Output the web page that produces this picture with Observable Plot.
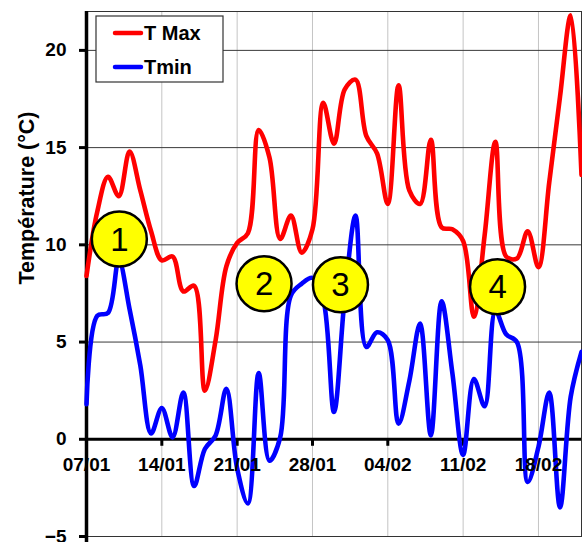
<!DOCTYPE html>
<html>
<head>
<meta charset="utf-8">
<script src="https://cdn.jsdelivr.net/npm/d3@7"></script>
<script src="https://cdn.jsdelivr.net/npm/@observablehq/plot@0.6"></script>
<style>
  html, body { margin: 0; padding: 0; background: white; }
  #chart { position: relative; width: 582px; height: 542px; overflow: hidden; }
</style>
</head>
<body>
<div id="chart"></div>
<script>
// Day index 0 = 07/01 ... 46 = 22/02
const dayIndex = d3.range(47);

const tMax = [8.4, 11.7, 13.5, 12.5, 14.8, 12.8, 10.7, 9.2, 9.4, 7.6, 7.9, 2.5, 5.1, 8.9, 10.1, 10.6,
  15.9, 14.5, 10.3, 11.5, 9.6, 10.8, 17.3, 15.2, 18.0, 18.5, 15.6, 14.7, 12.1, 18.2, 12.8, 12.1,
  15.4, 10.9, 10.8, 10.2, 6.3, 10.5, 15.3, 9.4, 9.3, 10.7, 8.85, 13.2, 17.6, 21.8, 13.6];

const tMin = [1.8, 6.35, 6.5, 9.2, 6.7, 3.8, 0.3, 1.6, 0.1, 2.4, -2.4, -0.5, 0.2, 2.6, -1.5, -3.3,
  3.4, -1.1, 0.1, 7.4, 8.0, 8.3, 7.2, 1.4, 7.3, 11.5, 4.75, 5.5, 5.1, 0.8, 3.0, 5.95,
  0.2, 7.1, 3.4, -0.8, 3.1, 1.7, 6.6, 5.4, 5.0, -2.2, -0.4, 2.4, -3.5, 2.2, 4.5];

const xTickDays = [0, 7, 14, 21, 28, 35, 42];
const xTickLabels = ["07/01", "14/01", "21/01", "28/01", "04/02", "11/02", "18/02"];
const yTicks = [-5, 0, 5, 10, 15, 20];
const yGridValues = [5, 10, 15, 20];

// Numbered annotations (position in day index / °C)
const noteLabels = ["1", "2", "3", "4"];
const noteDays = [3.05, 16.5, 23.6, 38.2];
const noteValues = [10.3, 8.0, 7.95, 7.85];

const seriesNames = ["T Max", "Tmin"];
const seriesColors = ["#ff0000", "#0000ff"];

const maxData = dayIndex.map((d, i) => ({day: d, value: tMax[i]}));
const minData = dayIndex.map((d, i) => ({day: d, value: tMin[i]}));
const notes = noteLabels.map((t, i) => ({label: t, day: noteDays[i], value: noteValues[i]}));
const xTicks = xTickDays.map((d, i) => ({day: d, label: xTickLabels[i]}));

const font = "'Liberation Sans', Arial, Helvetica, sans-serif";

const svg = Plot.plot({
  width: 582,
  height: 542,
  marginLeft: 86,
  marginRight: 1,
  marginTop: 11,
  marginBottom: 6,
  x: {domain: [0, 46], axis: null},
  y: {domain: [-5, 22], axis: null},
  style: {fontFamily: font, background: "white", color: "black", overflow: "visible"},
  marks: [
    Plot.gridX(xTickDays, {stroke: "#c4c4c4", strokeOpacity: 1, strokeWidth: 1}),
    Plot.gridY(yGridValues, {stroke: "#3a3a3a", strokeOpacity: 1, strokeWidth: 1}),
    Plot.frame({stroke: "#333", strokeWidth: 1}),
    Plot.ruleY([0], {stroke: "black", strokeWidth: 3}),
    Plot.ruleX(xTicks, {x: "day", y1: 0, y2: 0, insetBottom: -7, stroke: "black", strokeWidth: 3}),
    Plot.axisY(yTicks, {
      tickSize: 7, tickPadding: 13, strokeWidth: 3, fontSize: 19, fontWeight: "bold",
      label: null, fill: "black", stroke: "black"
    }),
    Plot.ruleX([0], {stroke: "black", strokeWidth: 3.5, insetBottom: -8}),
    Plot.line(maxData, {x: "day", y: "value", stroke: seriesColors[0], strokeWidth: 4.6, curve: "catmull-rom"}),
    Plot.line(minData, {x: "day", y: "value", stroke: seriesColors[1], strokeWidth: 4.6, curve: "catmull-rom"}),
    Plot.dot(notes, {x: "day", y: "value", r: 27.5, fill: "#ffff00", stroke: "black", strokeWidth: 2.5}),
    Plot.text(notes, {x: "day", y: "value", text: "label", fontSize: 33, fill: "black", dy: 1}),
    Plot.text(xTicks, {x: "day", y: 0, text: "label", dy: 26, fontSize: 19, fontWeight: "bold", fill: "black"})
  ]
});

const s = d3.select(svg);
// Y axis title
s.append("text")
  .attr("transform", "translate(26,198) rotate(-90)")
  .attr("text-anchor", "middle")
  .attr("dy", "0.36em")
  .attr("font-family", font)
  .attr("font-weight", "bold")
  .attr("font-size", 21.5)
  .attr("fill", "black")
  .text("Température (°C)");

// Legend box
const lg = s.append("g").attr("text-anchor", "start");
lg.append("rect").attr("x", 96).attr("y", 16).attr("width", 127).attr("height", 66)
  .attr("fill", "white").attr("stroke", "#333").attr("stroke-width", 1.2);
seriesNames.forEach((name, i) => {
  const cy = 33 + i * 34;
  lg.append("line").attr("x1", 115).attr("x2", 141).attr("y1", cy).attr("y2", cy)
    .attr("stroke", seriesColors[i]).attr("stroke-width", 4.5).attr("stroke-linecap", "round");
  lg.append("text").attr("x", 144).attr("y", cy).attr("dy", "0.36em")
    .attr("text-anchor", "start")
    .attr("font-family", font).attr("font-weight", "bold").attr("font-size", 20)
    .attr("fill", "black").text(name);
});

document.getElementById("chart").appendChild(svg);
</script>
</body>
</html>
